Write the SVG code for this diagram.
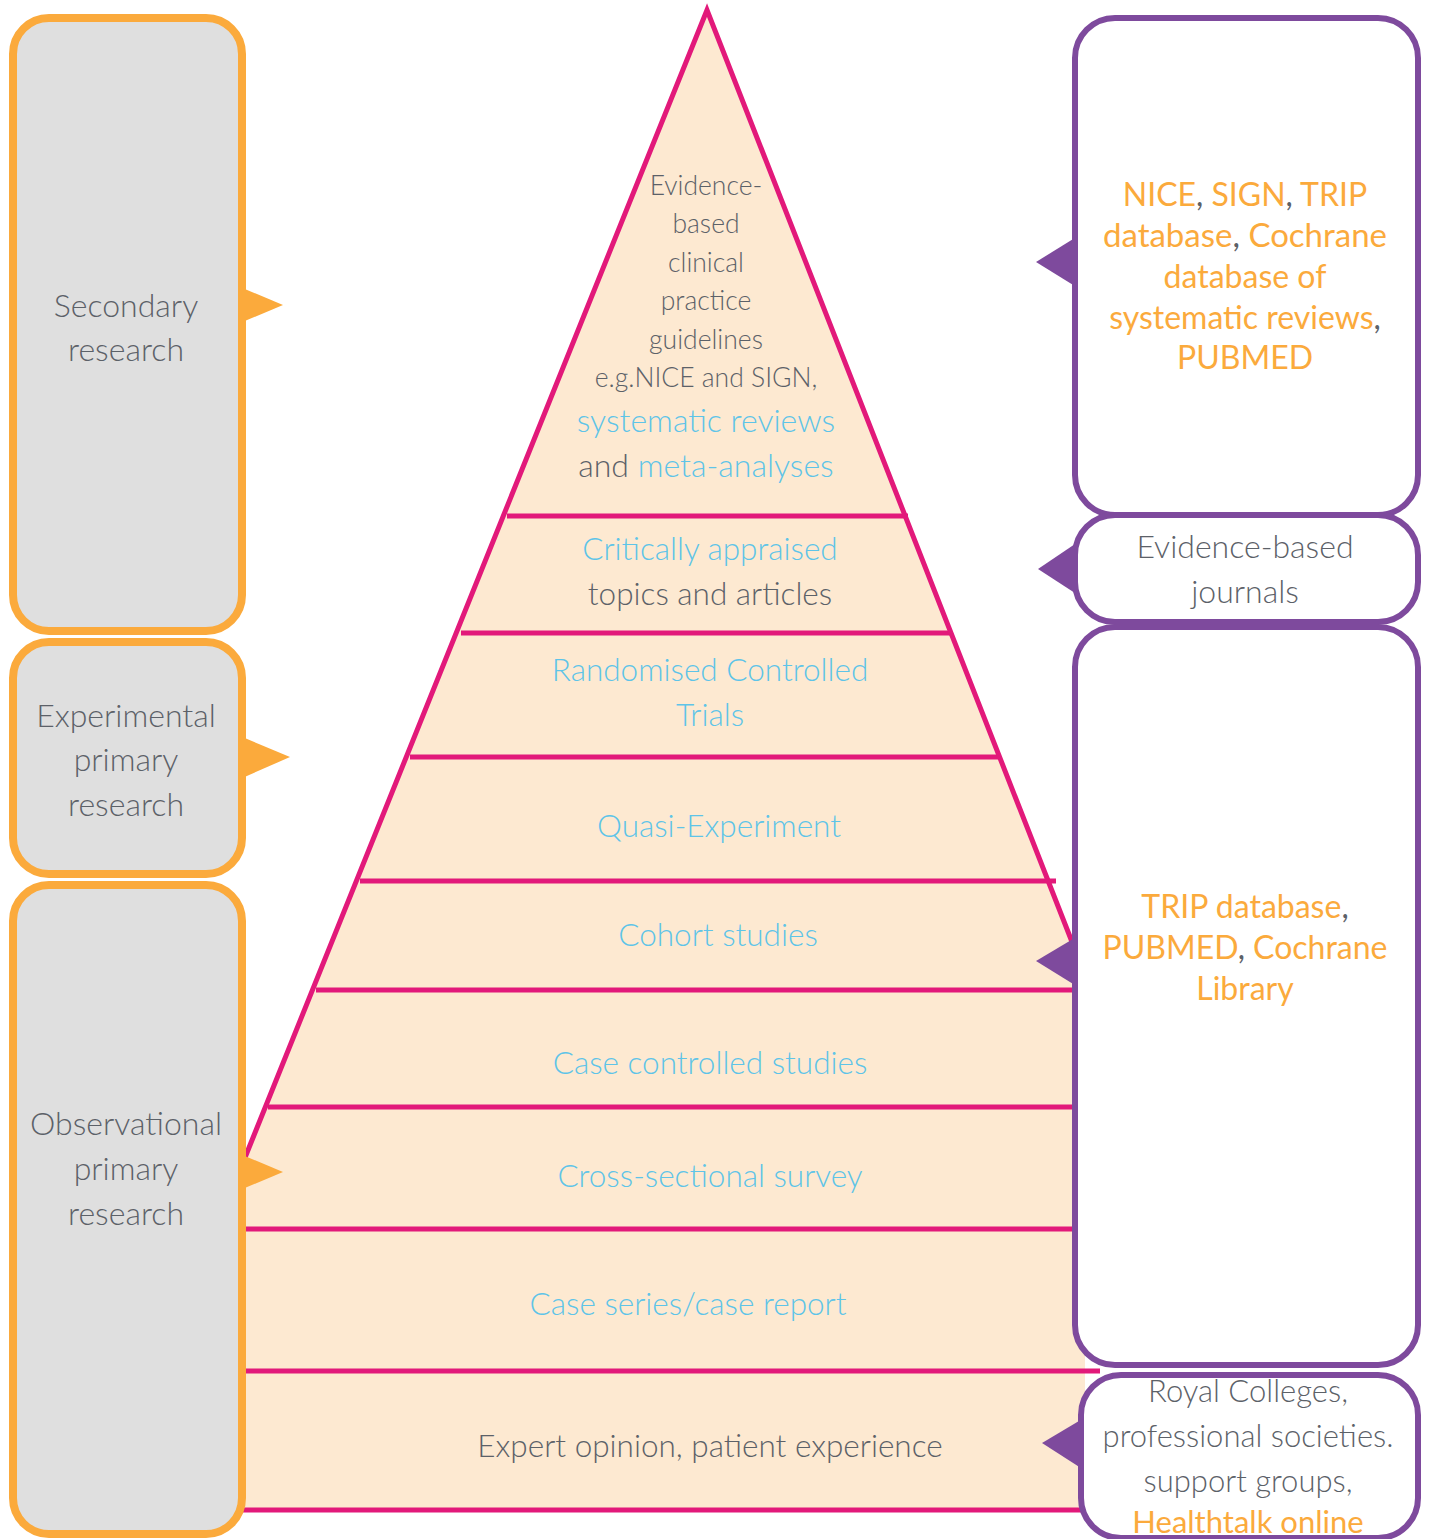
<svg xmlns="http://www.w3.org/2000/svg" width="1429" height="1539" viewBox="0 0 1429 1539">
<style>
.t{font-family:Lato,"Open Sans","Liberation Sans",sans-serif;font-weight:300;text-anchor:middle;fill:#5c6168}
.b{fill:#5ec4e8}
.o{fill:#fbaa3c;font-weight:400}
.band{stroke:#e2197a;stroke-width:5;fill:none}
.lbox{fill:#dfdfdf;stroke:#fbaa3c;stroke-width:8}
.rbox{fill:#fff;stroke:#7e4a9d;stroke-width:6}
.ltri{fill:#fbaa3c}
.rtri{fill:#7e4a9d}
</style>
<g id="pyramid">
<polygon points="707,10 1072,942 1085,942 1085,1510 245,1510 245,1157" fill="#fde9d1"/>
<g class="band">
<line x1="507" y1="516" x2="908" y2="516"/>
<line x1="461" y1="633" x2="952" y2="633"/>
<line x1="410" y1="757" x2="1001" y2="757"/>
<line x1="360" y1="881" x2="1056" y2="881"/>
<line x1="316" y1="990" x2="1074" y2="990"/>
<line x1="268" y1="1107" x2="1074" y2="1107"/>
<line x1="240" y1="1229" x2="1074" y2="1229"/>
<line x1="240" y1="1371" x2="1100" y2="1371"/>
<line x1="240" y1="1510" x2="1082" y2="1510"/>
<polyline points="240,1170 707,10 1074,947" stroke-linejoin="miter" stroke-miterlimit="20"/>
</g>
</g>
<g id="level-guidelines">
<text class="t" font-size="26.5" x="706" y="195">Evidence-</text>
<text class="t" font-size="26.5" x="706" y="233">based</text>
<text class="t" font-size="26.5" x="706" y="272">clinical</text>
<text class="t" font-size="26.5" x="706" y="310">practice</text>
<text class="t" font-size="26.5" x="706" y="349">guidelines</text>
<text class="t" font-size="26.5" x="706" y="387">e.g.NICE and SIGN,</text>
<text class="t b" font-size="32" x="706" y="432">systematic reviews</text>
<text class="t" font-size="32" x="706" y="477">and <tspan class="b">meta-analyses</tspan></text>
</g>
<g id="level-cat">
<text class="t b" font-size="31.5" x="710" y="560">Critically appraised</text>
<text class="t" font-size="31.5" x="710" y="605">topics and articles</text>
</g>
<g id="level-rct">
<text class="t b" font-size="31.5" x="710" y="681">Randomised Controlled</text>
<text class="t b" font-size="31.5" x="710" y="726">Trials</text>
</g>
<g id="level-quasi"><text class="t b" font-size="31.5" x="719" y="837">Quasi-Experiment</text></g>
<g id="level-cohort"><text class="t b" font-size="31.5" x="718" y="946">Cohort studies</text></g>
<g id="level-casecontrol"><text class="t b" font-size="31.5" x="710" y="1074">Case controlled studies</text></g>
<g id="level-crosssectional"><text class="t b" font-size="31.5" x="710" y="1187">Cross-sectional survey</text></g>
<g id="level-caseseries"><text class="t b" font-size="31.5" x="688" y="1315">Case series/case report</text></g>
<g id="level-expert"><text class="t" font-size="31.5" x="710" y="1457">Expert opinion, patient experience</text></g>

<g id="box-secondary">
<rect class="lbox" x="13" y="18" width="229" height="613" rx="36"/>
<text class="t" font-size="32" x="126" y="317">Secondary</text>
<text class="t" font-size="32" x="126" y="361">research</text>
</g>
<g id="box-experimental">
<rect class="lbox" x="13" y="642" width="229" height="232" rx="36"/>
<text class="t" font-size="32" x="126" y="727">Experimental</text>
<text class="t" font-size="32" x="126" y="771">primary</text>
<text class="t" font-size="32" x="126" y="816">research</text>
</g>
<g id="box-observational">
<rect class="lbox" x="13" y="885" width="229" height="649" rx="36"/>
<text class="t" font-size="32" x="126" y="1135">Observational</text>
<text class="t" font-size="32" x="126" y="1180">primary</text>
<text class="t" font-size="32" x="126" y="1225">research</text>
</g>

<g id="box-databases">
<rect class="rbox" x="1075" y="18" width="343" height="497" rx="40"/>
<text class="t o" font-size="32" x="1245" y="206">NICE<tspan fill="#5c6168">,</tspan> SIGN<tspan fill="#5c6168">,</tspan> TRIP</text>
<text class="t o" font-size="33" x="1245" y="247">database<tspan fill="#5c6168">,</tspan> Cochrane</text>
<text class="t o" font-size="32" x="1245" y="288">database of</text>
<text class="t o" font-size="32" x="1245" y="329">systematic reviews<tspan fill="#5c6168">,</tspan></text>
<text class="t o" font-size="32" x="1245" y="369">PUBMED</text>
</g>
<g id="box-journals">
<rect class="rbox" x="1075" y="515" width="343" height="107" rx="40"/>
<text class="t" font-size="32" x="1245" y="558">Evidence-based</text>
<text class="t" font-size="32" x="1245" y="603">journals</text>
</g>
<g id="box-primary-db">
<rect class="rbox" x="1075" y="627" width="343" height="738" rx="40"/>
<text class="t o" font-size="32" x="1245" y="918">TRIP database<tspan fill="#5c6168">,</tspan></text>
<text class="t o" font-size="32" x="1245" y="959">PUBMED<tspan fill="#5c6168">,</tspan> Cochrane</text>
<text class="t o" font-size="32" x="1245" y="1000">Library</text>
</g>
<g id="box-colleges">
<rect class="rbox" x="1081" y="1375" width="337" height="163" rx="40"/>
<text class="t" font-size="31" x="1248" y="1402">Royal Colleges,</text>
<text class="t" font-size="31" x="1248" y="1447">professional societies.</text>
<text class="t" font-size="31" x="1248" y="1492">support groups,</text>
<text class="t o" font-size="31" x="1248" y="1533">Healthtalk online</text>
</g>

<g id="connectors">
<polygon class="ltri" points="240,287 283,305 240,323"/>
<polygon class="ltri" points="240,736 290,757 240,779"/>
<polygon class="ltri" points="240,1154 283,1172 240,1190"/>
<polygon class="rtri" points="1078,236 1036,262 1078,288"/>
<polygon class="rtri" points="1078,542 1038,569 1078,595"/>
<polygon class="rtri" points="1078,936 1036,961 1078,987"/>
<polygon class="rtri" points="1084,1418 1042,1443 1084,1470"/>
</g>
</svg>
